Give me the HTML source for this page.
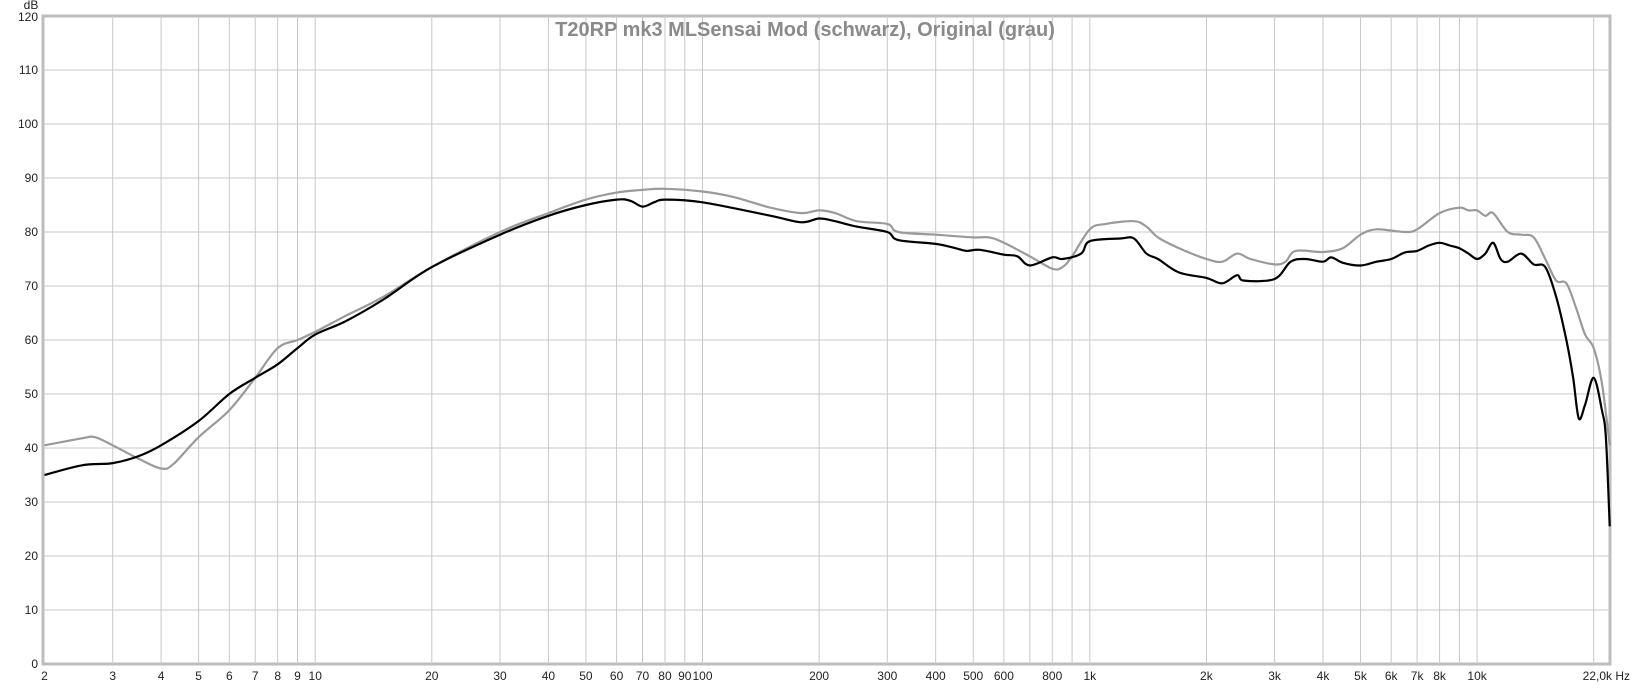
<!DOCTYPE html><html><head><meta charset="utf-8"><style>
body{margin:0;background:#fff;}
svg{display:block;font-family:"Liberation Sans",sans-serif;}
</style></head><body>
<svg id="s" width="1632" height="688" xmlns="http://www.w3.org/2000/svg"></svg>
<script>
const s=document.getElementById('s');
const X0=44.5,D=387.3,Y0=664,K=5.4;
const fx=f=>X0+Math.log10(f/2)*D, dy=d=>Y0-d*K;
let h='';
h+='<rect x="43" y="16" width="1567" height="648" fill="#fff" stroke="#bdbdbd" stroke-width="3"/>';
for(let d=10;d<120;d+=10)h+=`<line x1="43" x2="1610" y1="${dy(d)}" y2="${dy(d)}" stroke="#c8c8c8"/>`;
const xt=[];
for(const m of [1,10,100,1000])for(let k=1;k<10;k++){const f=k*m;if(f>=3)xt.push(f);}
xt.push(10000,20000);
for(const f of xt)h+=`<line x1="${fx(f)}" x2="${fx(f)}" y1="16" y2="664" stroke="#c8c8c8"/>`;
for(let d=0;d<=110;d+=10)h+=`<text x="38" y="${dy(d)+4}" font-size="12" text-anchor="end" fill="#222">${d}</text>`;
h+=`<text x="38" y="21" font-size="12" text-anchor="end" fill="#222">120</text>`;
h+=`<text x="31" y="9" font-size="12" text-anchor="middle" fill="#222">dB</text>`;
const lab=[2,3,4,5,6,7,8,9,10,20,30,40,50,60,70,80,90,100,200,300,400,500,600,800,1000,2000,3000,4000,5000,6000,7000,8000,10000];
for(const f of lab){let t=f>=1000?(f/1000)+'k':f;h+=`<text x="${fx(f)}" y="680" font-size="12" text-anchor="middle" fill="#222">${t}</text>`;}
h+=`<text x="1630" y="680" font-size="12" text-anchor="end" fill="#222">22,0k Hz</text>`;
h+=`<text x="805" y="36" font-size="20" font-weight="bold" text-anchor="middle" fill="#8a8a8a">T20RP mk3 MLSensai Mod (schwarz), Original (grau)</text>`;
function path(pts){
 const p=pts.map(([f,d])=>[fx(f),dy(d)]);
 let s=`M${p[0][0]},${p[0][1]}`;
 for(let i=0;i<p.length-1;i++){
  const a=p[Math.max(0,i-1)],b=p[i],c=p[i+1],e=p[Math.min(p.length-1,i+2)];
  const c1=[b[0]+(c[0]-a[0])/6,b[1]+(c[1]-a[1])/6],c2=[c[0]-(e[0]-b[0])/6,c[1]-(e[1]-b[1])/6];
  s+=`C${c1[0]},${c1[1]} ${c2[0]},${c2[1]} ${c[0]},${c[1]}`;
 }
 return s;
}
const gray=[[2,40.5],[2.5,41.8],[2.7,42],[3,40.5],[3.5,38],[4,36.2],[4.3,37],[5,42],[6,47],[7,53],[8,58.5],[9,60],[10,61.5],[12,64.5],[15,68],[20,73.5],[30,80],[40,83.5],[50,86],[60,87.3],[70,87.8],[80,88],[100,87.5],[120,86.5],[150,84.5],[180,83.5],[200,84],[220,83.5],[250,82],[300,81.5],[320,80],[400,79.5],[500,79],[550,79],[600,78],[700,75.5],[800,73.2],[850,73.5],[900,75.5],[1000,80.5],[1100,81.5],[1300,82],[1400,81],[1500,79],[1700,77],[2000,75],[2200,74.5],[2400,76],[2600,75],[3000,74],[3200,74.5],[3400,76.5],[4000,76.3],[4500,77],[5000,79.5],[5500,80.5],[6500,80],[7000,80.5],[8000,83.5],[9000,84.5],[9500,84],[10000,84],[10500,83],[11000,83.5],[12000,80],[13000,79.5],[14000,79],[15000,75],[16000,71],[17000,70.5],[18000,66],[19000,61],[20000,58.5],[21000,52],[22000,40.5]];
const black=[[2,35],[2.5,36.8],[3,37.2],[3.5,38.5],[4,40.5],[5,45],[6,50],[7,53],[8,55.5],[9,58.5],[10,61],[12,63.5],[15,67.5],[20,73.5],[30,79.5],[40,83],[50,85],[60,86],[65,85.8],[70,84.7],[75,85.5],[80,86],[100,85.5],[150,83],[180,81.8],[200,82.5],[220,82],[250,81],[300,80],[320,78.5],[400,77.8],[450,77],[480,76.5],[520,76.7],[600,75.8],[650,75.5],[700,73.8],[800,75.3],[850,75],[950,76],[1000,78.3],[1200,78.8],[1300,78.8],[1400,76],[1500,75],[1700,72.5],[2000,71.5],[2200,70.5],[2400,72],[2500,71],[3000,71.3],[3300,74.5],[3600,75],[4000,74.5],[4200,75.3],[4500,74.3],[5000,73.8],[5500,74.5],[6000,75],[6500,76.2],[7000,76.5],[7500,77.5],[8000,78],[8500,77.5],[9000,77],[9500,76],[10000,75],[10500,76],[11000,78],[11500,75],[12000,74.5],[13000,76],[14000,74],[15000,73.5],[16000,68],[17000,60],[17700,53],[18300,45.5],[19000,48],[20000,53],[21000,47],[21500,42],[22000,25.5]];
h+=`<path d="${path(gray)}" fill="none" stroke="#9a9a9a" stroke-width="2.2"/>`;
h+=`<path d="${path(black)}" fill="none" stroke="#000" stroke-width="2.2"/>`;
s.innerHTML=h;
</script>
</body></html>
